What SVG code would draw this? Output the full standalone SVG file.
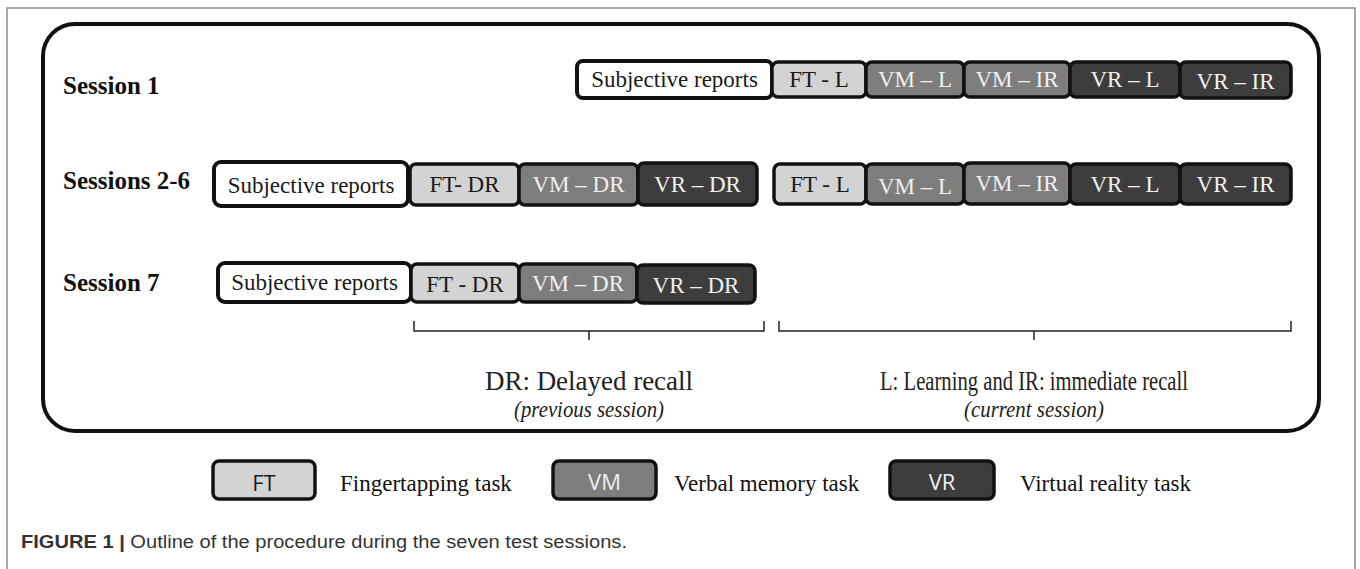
<svg xmlns="http://www.w3.org/2000/svg" width="1360" height="569" viewBox="0 0 1360 569">
  <style>
    .lbl { font-family: "Liberation Serif", "Times New Roman", serif; font-size: 25px; font-weight: bold; fill: #111; }
    .txt { font-family: "Liberation Serif", "Times New Roman", serif; font-size: 23px; text-anchor: middle; }
    .box { stroke: #111; stroke-width: 3.5; }
    .subj { fill: #fff; stroke-width: 4; }
    .ft { fill: #d3d3d3; }
    .vm { fill: #7d7d7d; }
    .vr { fill: #3d3d3d; }
    .dark { fill: #1a1a1a; }
    .light { fill: #f0f0f0; }
    .brace { fill: none; stroke: #222; stroke-width: 1.5; }
    .note { font-family: "Liberation Serif", "Times New Roman", serif; font-size: 28px; text-anchor: middle; fill: #222; }
    .sub { font-size: 24px; font-style: italic; }
    .leg { font-family: "Liberation Serif", "Times New Roman", serif; font-size: 23px; fill: #111; }
    .legk { font-family: "Open Sans", "Liberation Sans", sans-serif; font-size: 22px; text-anchor: middle; }
  </style>

  <!-- page frame -->
  <path d="M7 569 V8 H1355 V569" fill="none" stroke="#8a8a8a" stroke-width="1.5"/>
  <!-- panel -->
  <rect x="43" y="24" width="1276" height="407" rx="32" fill="#fff" stroke="#111" stroke-width="4"/>

  <!-- session labels -->
  <text class="lbl" x="63" y="94">Session 1</text>
  <text class="lbl" x="63" y="189">Sessions 2-6</text>
  <text class="lbl" x="63" y="291">Session 7</text>

  <!-- Session 1 -->
  <g id="s1-subj"><rect class="box subj" x="577" y="61" width="195" height="37" rx="6"/><text class="txt dark" x="674.5" y="87">Subjective reports</text></g>
  <g id="s1-ftl"><rect class="box ft" x="772" y="62" width="94" height="35" rx="6"/><text class="txt dark" x="819" y="87">FT - L</text></g>
  <g id="s1-vml"><rect class="box vm" x="866" y="62" width="98" height="35" rx="6"/><text class="txt light" x="915" y="87">VM – L</text></g>
  <g id="s1-vmir"><rect class="box vm" x="964" y="62" width="106" height="35" rx="6"/><text class="txt light" x="1017" y="87">VM – IR</text></g>
  <g id="s1-vrl"><rect class="box vr" x="1070" y="62" width="110" height="35" rx="6"/><text class="txt light" x="1125" y="87">VR – L</text></g>
  <g id="s1-vrir"><rect class="box vr" x="1180" y="62" width="111" height="36" rx="6"/><text class="txt light" x="1235.5" y="89">VR – IR</text></g>

  <!-- Sessions 2-6 -->
  <g id="s2-subj"><rect class="box subj" x="214" y="162" width="194" height="44" rx="7"/><text class="txt dark" x="311" y="193">Subjective reports</text></g>
  <g id="s2-ftdr"><rect class="box ft" x="410" y="164" width="109" height="41" rx="6"/><text class="txt dark" x="464.5" y="192">FT- DR</text></g>
  <g id="s2-vmdr"><rect class="box vm" x="519" y="164" width="119" height="41" rx="6"/><text class="txt light" x="578.5" y="192">VM – DR</text></g>
  <g id="s2-vrdr"><rect class="box vr" x="638" y="163" width="119" height="42" rx="6"/><text class="txt light" x="697.5" y="192">VR – DR</text></g>
  <g id="s2-ftl"><rect class="box ft" x="774" y="164" width="92" height="40" rx="6"/><text class="txt dark" x="820" y="192">FT - L</text></g>
  <g id="s2-vml"><rect class="box vm" x="866" y="164" width="98" height="40" rx="6"/><text class="txt light" x="915" y="194">VM – L</text></g>
  <g id="s2-vmir"><rect class="box vm" x="964" y="163" width="106" height="41" rx="6"/><text class="txt light" x="1017" y="191">VM – IR</text></g>
  <g id="s2-vrl"><rect class="box vr" x="1070" y="164" width="110" height="40" rx="6"/><text class="txt light" x="1125" y="192">VR – L</text></g>
  <g id="s2-vrir"><rect class="box vr" x="1180" y="164" width="111" height="40" rx="6"/><text class="txt light" x="1235.5" y="192">VR – IR</text></g>

  <!-- Session 7 -->
  <g id="s7-subj"><rect class="box subj" x="218" y="263" width="193" height="39" rx="7"/><text class="txt dark" x="314.5" y="290">Subjective reports</text></g>
  <g id="s7-ftdr"><rect class="box ft" x="411" y="264" width="108" height="38" rx="6"/><text class="txt dark" x="465" y="292">FT - DR</text></g>
  <g id="s7-vmdr"><rect class="box vm" x="519" y="264" width="118" height="38" rx="6"/><text class="txt light" x="578" y="291">VM – DR</text></g>
  <g id="s7-vrdr"><rect class="box vr" x="637" y="265" width="118" height="38" rx="6"/><text class="txt light" x="696" y="293">VR – DR</text></g>

  <!-- braces -->
  <g id="connectors">
    <path class="brace" d="M414 321 V331 H764 V321 M589 331 V340"/>
    <path class="brace" d="M779 321 V331 H1291 V321 M1034 331 V340"/>
  </g>

  <!-- brace captions -->
  <g id="note-dr">
    <text class="note" x="589" y="390" textLength="208" lengthAdjust="spacingAndGlyphs">DR: Delayed recall</text>
    <text class="note sub" x="589" y="417" textLength="150" lengthAdjust="spacingAndGlyphs">(previous session)</text>
  </g>
  <g id="note-l">
    <text class="note" x="1034" y="390" textLength="308" lengthAdjust="spacingAndGlyphs">L: Learning and IR: immediate recall</text>
    <text class="note sub" x="1034" y="417" textLength="140" lengthAdjust="spacingAndGlyphs">(current session)</text>
  </g>

  <!-- legend -->
  <g id="legend-ft"><rect class="box ft" x="213" y="461" width="102" height="38" rx="6"/><text class="legk dark" x="264" y="491">FT</text><text class="leg" x="340" y="491">Fingertapping task</text></g>
  <g id="legend-vm"><rect class="box vm" x="553" y="461" width="103" height="38" rx="6"/><text class="legk light" x="604.5" y="490">VM</text><text class="leg" x="674" y="491">Verbal memory task</text></g>
  <g id="legend-vr"><rect class="box vr" x="890" y="461" width="104" height="38" rx="6"/><text class="legk light" x="942" y="490">VR</text><text class="leg" x="1020" y="491">Virtual reality task</text></g>

  <!-- figure caption -->
  <text x="21" y="548" font-family="'Liberation Sans', Arial, sans-serif" font-size="17.5" fill="#333" textLength="606" lengthAdjust="spacingAndGlyphs"><tspan font-weight="bold">FIGURE 1 |</tspan> Outline of the procedure during the seven test sessions.</text>
</svg>
